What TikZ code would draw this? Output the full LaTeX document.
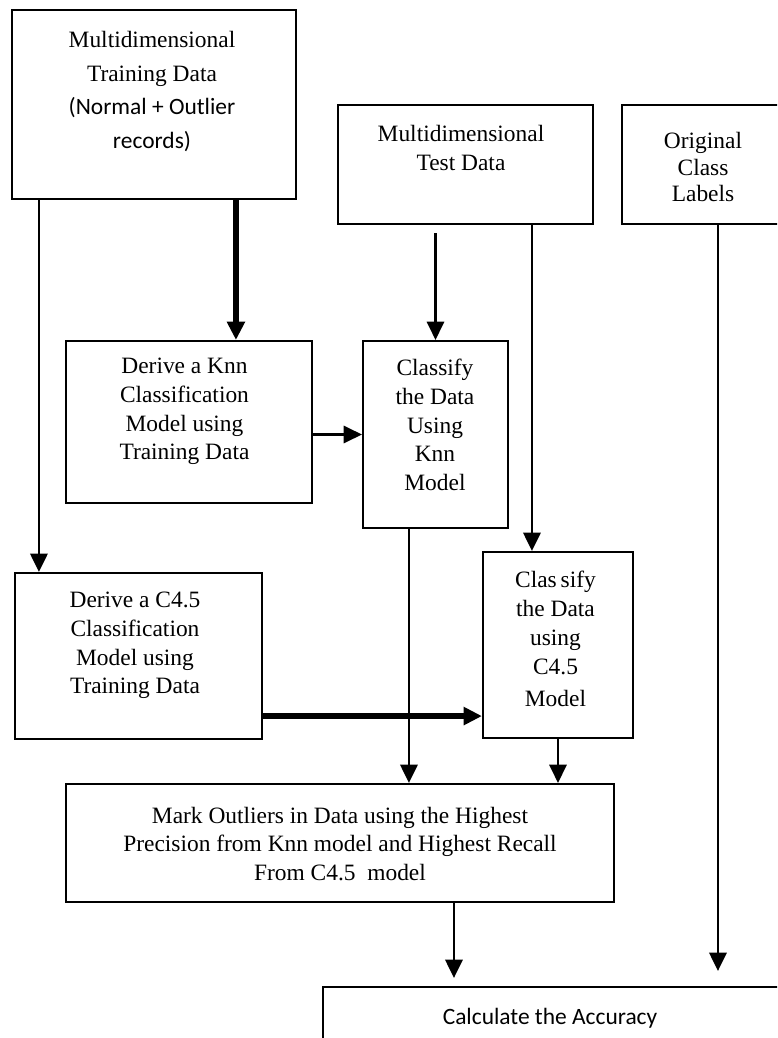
\documentclass[tikz,border=0pt]{standalone}
\usepackage{fontspec}
\setmainfont{Liberation Serif}
\newfontfamily\calibfont{Carlito}
\usetikzlibrary{arrows.meta}

\begin{document}
\begin{tikzpicture}[x=0.03cm,y=-0.03cm,>={Triangle[length=5.5mm,width=5.2mm]},
        box/.style={draw,line width=1.8pt,inner sep=0pt},
        txt/.style={align=center,inner sep=0pt,font=\fontsize{20}{24.5}\selectfont},
        flow/.style={->,line width=2pt},
        bigflow/.style={->,line width=4.5pt}]
        \clip (0,0) rectangle (777,1038);
        % boxes
        \node[box,minimum width=8.52cm,minimum height=5.67cm] (train) at (154,104.5) {};
        \node[box,minimum width=7.65cm,minimum height=3.57cm] (test) at (465.5,164.5) {};
        \node[box,minimum width=5.34cm,minimum height=3.57cm] (orig) at (711,164.5) {};
        \node[box,minimum width=7.38cm,minimum height=4.86cm] (knnd) at (189,422) {};
        \node[box,minimum width=4.35cm,minimum height=5.61cm] (knnc) at (435.5,434.5) {};
        \node[box,minimum width=7.41cm,minimum height=4.98cm] (c45d) at (138.5,656) {};
        \node[box,minimum width=4.5cm,minimum height=5.58cm] (c45c) at (558,645) {};
        \node[box,minimum width=16.44cm,minimum height=3.54cm] (mark) at (340,843) {};
        \node[box,minimum width=14.31cm,minimum height=2.19cm] (acc) at (561.5,1023.5) {};
        % texts
        \node[txt,font=\fontsize{20}{29}\selectfont] (traint) at (152,91.5) {Multidimensional\\Training Data\\{\calibfont (Normal + Outlier}\\{\calibfont records)}};
        \node[txt,font=\fontsize{20}{25.5}\selectfont] (testt) at (461,148) {Multidimensional\\Test Data};
        \node[txt,font=\fontsize{20}{23}\selectfont] (origt) at (703,167) {Original\\Class\\Labels};
        \node[txt] (knndt) at (184.5,411.5) {Derive a Knn\\Classification\\Model using\\Training Data};
        \node[txt] (knnct) at (435,425) {Classify\\the Data\\Using\\Knn\\Model};
        \node[txt] (c45dt) at (135,645.5) {Derive a C4.5\\Classification\\ Model using\\Training Data};
        \node[txt] (c45ct) at (555.5,639) {Clas\,sify\\the Data\\using\\C4.5\\[3pt]Model};
        \node[txt] (markt) at (340,844) {Mark Outliers in Data using the Highest\\Precision from Knn model and Highest Recall\\From C4.5 \ model};
        \node[txt,font=\fontsize{20}{24.5}\calibfont] (acct) at (550,1018) {Calculate the Accuracy};
        % connectors
        \coordinate (accin) at ([yshift=0.24cm]acc.north);
        \coordinate (accin2) at ([yshift=0.45cm]acc.north);
        \draw[flow] ([xshift=0.84cm]train.south west) -- ([xshift=0.84cm]train.south west |- c45d.north);
        \draw[bigflow] ([xshift=5.13cm]knnd.north west |- train.south) -- ([xshift=5.13cm]knnd.north west);
        \draw[flow] (knnd.east |- knnc.west) -- (knnc.west);
        \draw[flow] ([yshift=-0.24cm]test.south -| knnc.north) -- (knnc.north);
        \draw[flow] ([xshift=1.5cm]c45c.north west |- test.south) -- ([xshift=1.5cm]c45c.north west);
        \draw[flow] ([xshift=2.91cm]orig.south west) -- ([xshift=2.91cm]orig.south west |- accin2);
        \draw[flow] ([xshift=1.41cm]knnc.south west) -- ([xshift=1.41cm]knnc.south west |- mark.north);
        \draw[bigflow] ([yshift=0.72cm]c45d.south east) -- ([yshift=0.72cm]c45d.south east -| c45c.west);
        \draw[flow] (c45c.south) -- (c45c.south |- mark.north);
        \draw[flow] ([xshift=11.67cm]mark.south west) -- ([xshift=11.67cm]mark.south west |- accin);
    \end{tikzpicture}
\end{document}
